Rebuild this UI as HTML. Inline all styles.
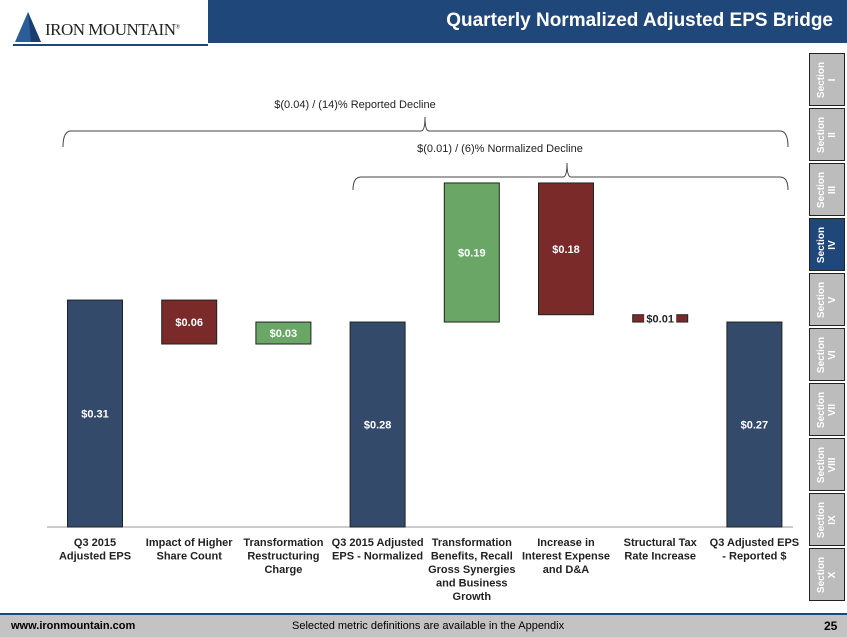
<!DOCTYPE html>
<html><head><meta charset="utf-8"><style>
body{margin:0;width:847px;height:635px;overflow:hidden;background:#fff;font-family:"Liberation Sans",sans-serif;position:relative}
.hdr{position:absolute;left:208px;top:0;width:639px;height:43px;background:#1f477a}
.title{position:absolute;right:14px;top:10px;color:#fff;font-weight:bold;font-size:19px}
.tab{position:absolute;left:809px;width:36px;height:53px;background:#bcbcbc;border:1px solid #222;box-sizing:border-box;color:#fff;font-size:10px;font-weight:bold}
.tab span{position:absolute;left:50%;top:50%;transform:translate(-50%,-50%) rotate(-90deg);text-align:center;line-height:11px;white-space:nowrap}
.foot{position:absolute;left:0;top:613px;width:847px;height:22px;background:#c3c3c3;border-top:2px solid #1f477a;font-size:11px}
</style></head><body>
<div class="hdr"><div class="title">Quarterly Normalized Adjusted EPS Bridge</div></div>
<div style="position:absolute;left:13px;top:8px;width:195px;height:36px;border-bottom:2px solid #1f477a">
<svg width="26" height="30" style="position:absolute;left:2px;top:4px"><polygon points="13,0 26,30 0,30" fill="#2a5d9a"/><polygon points="13,0 26,30 16,30" fill="#1a3e6e"/></svg>
<div style="position:absolute;left:32px;top:12px;font-family:'Liberation Serif',serif;font-size:17px;color:#222;letter-spacing:-0.5px">IRON MOUNTAIN<sup style="font-size:6px">®</sup></div></div>
<div id="tabs"></div>
<svg id="chart" width="800" height="610" style="position:absolute;left:0;top:0"></svg>
<div class="foot">
<span style="position:absolute;left:11px;top:5px;font-weight:bold">www.ironmountain.com</span>
<span style="position:absolute;left:292px;top:5px">Selected metric definitions are available in the Appendix</span>
<span style="position:absolute;left:824px;top:4px;font-weight:bold;font-size:12px">25</span></div>
<script>
const categories=["Q3 2015\nAdjusted EPS","Impact of Higher\nShare Count","Transformation\nRestructuring\nCharge","Q3 2015 Adjusted\nEPS - Normalized","Transformation\nBenefits, Recall\nGross Synergies\nand Business\nGrowth","Increase in\nInterest Expense\nand D&A","Structural Tax\nRate Increase","Q3 Adjusted EPS\n- Reported $"];
const barStart=[0,0.31,0.25,0,0.28,0.47,0.29,0];
const barEnd=[0.31,0.25,0.28,0.28,0.47,0.29,0.28,0.28];
const barKind=["total","neg","pos","total","pos","neg","neg","total"];
const valueLabels=["$0.31","$0.06","$0.03","$0.28","$0.19","$0.18","$0.01","$0.27"];
const sections=["I","II","III","IV","V","VI","VII","VIII","IX","X"];
const NS="http://www.w3.org/2000/svg";
const svg=document.getElementById('chart');
const y0=527,scale=732;
const y=v=>y0-v*scale;
const xc=i=>95+i*94.2;
const bw=55;
const fill={total:"#344a6b",neg:"#7b2a2a",pos:"#6aa766"};
function mk(t,a){const e=document.createElementNS(NS,t);for(const k in a)e.setAttribute(k,a[k]);svg.appendChild(e);return e;}
const ax=mk('line',{x1:47,x2:793,y1:y0,y2:y0,stroke:'#999','stroke-width':1});


categories.forEach((c,i)=>{
 const top=y(Math.max(barStart[i],barEnd[i])),bot=y(Math.min(barStart[i],barEnd[i]));
 const r=mk('rect',{x:xc(i)-bw/2,y:top,width:bw,height:bot-top,fill:fill[barKind[i]],stroke:'#222','stroke-width':1});
 
 
 const mid=(top+bot)/2;
 if(barKind[i]=="neg"&&bot-top<12){mk('rect',{x:xc(i)-16,y:mid-8,width:32,height:16,fill:'#fff'});}
 const t=mk('text',{x:xc(i),y:mid+4,'text-anchor':'middle','font-size':11,'font-weight':'bold',fill:(bot-top<12)?'#222':'#fff'});
 t.textContent=valueLabels[i];
 
 
 c.split("\n").forEach((ln,j)=>{const l=mk('text',{x:xc(i),y:546+j*13.5,'text-anchor':'middle','font-size':11,'font-weight':'bold',fill:'#222'});l.textContent=ln;
 
 });
});
function brace(x1,x2,tip,yy,drop,name){
 const p=mk('path',{d:`M${x1},${yy+drop} Q${x1},${yy} ${x1+8},${yy} L${tip-4},${yy} Q${tip},${yy} ${tip},${yy-14} Q${tip},${yy} ${tip+4},${yy} L${x2-8},${yy} Q${x2},${yy} ${x2},${yy+drop}`,fill:'none',stroke:'#444','stroke-width':1});
 
 
}
brace(63,788,425,131,16,'reported-brace');
brace(353,788,567,177,13,'normalized-brace');
const a1=mk('text',{x:355,y:108,'text-anchor':'middle','font-size':11,fill:'#222'});a1.textContent="$(0.04) / (14)% Reported Decline";


const a2=mk('text',{x:500,y:152,'text-anchor':'middle','font-size':11,fill:'#222'});a2.textContent="$(0.01) / (6)% Normalized Decline";


const tabs=document.getElementById('tabs');
sections.forEach((s,i)=>{const d=document.createElement('div');d.className='tab';d.style.top=(53+i*55)+'px';if(s=="IV")d.style.background='#1f477a';


d.innerHTML='<span>Section<br>'+s+'</span>';tabs.appendChild(d);});
</script>
</body></html>
